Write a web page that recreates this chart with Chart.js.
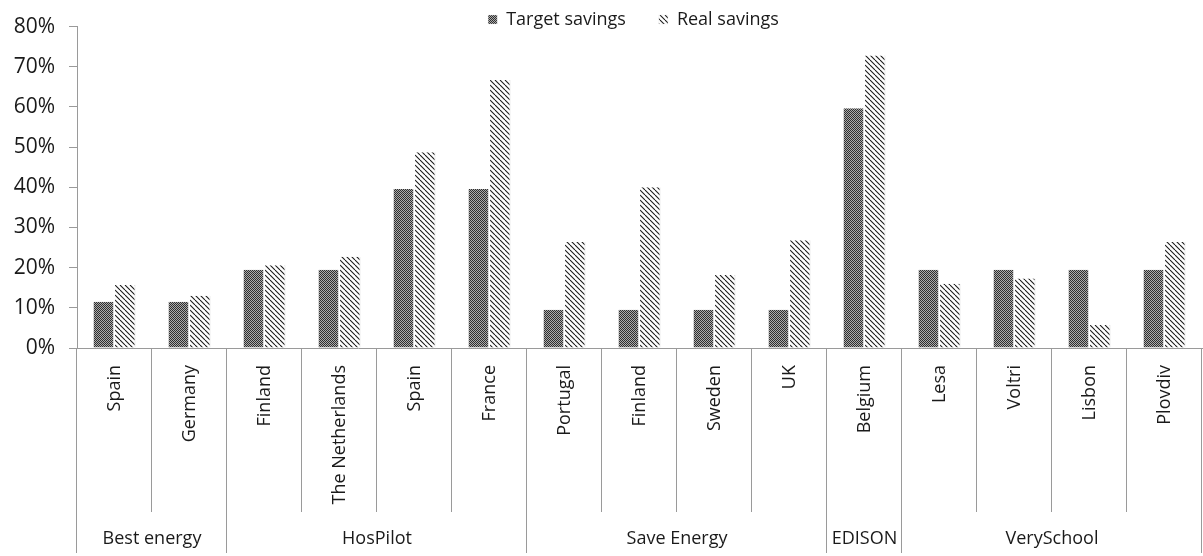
<!DOCTYPE html>
<html>
<head>
<meta charset="utf-8">
<script src="https://cdn.jsdelivr.net/npm/chart.js@4.4.0/dist/chart.umd.min.js"></script>
<style>
  html, body { margin: 0; padding: 0; background: #fff; }
  #wrap { width: 1203px; height: 556px; }
</style>
</head>
<body>
<div id="wrap"><canvas id="chart"></canvas></div>
<script>
const categories = ['Spain', 'Germany', 'Finland', 'The Netherlands', 'Spain', 'France',
  'Portugal', 'Finland', 'Sweden', 'UK', 'Belgium', 'Lesa', 'Voltri', 'Lisbon', 'Plovdiv'];
const groupNames = ['Best energy', 'HosPilot', 'Save Energy', 'EDISON', 'VerySchool'];
const groupSizes = [2, 4, 4, 1, 4];
const targetSavings = [11.5, 11.5, 19.5, 19.5, 39.6, 39.6, 9.5, 9.5, 9.5, 9.5, 59.7, 19.5, 19.5, 19.5, 19.5];
const realSavings = [15.7, 13, 20.6, 22.7, 48.7, 66.7, 26.4, 40, 18.2, 26.8, 72.8, 16, 17.3, 5.7, 26.4];
const yMax = 80;
const yStep = 10;

const FONT = "'Open Sans', 'DejaVu Sans', sans-serif";
const TEXT = '#1a1a1a';
const LINE = '#9a9a9a';

// fill patterns like the excel hatching
function dotPattern() {
  const c = document.createElement('canvas');
  c.width = 2; c.height = 2;
  const g = c.getContext('2d');
  g.fillStyle = '#ababab';
  g.fillRect(0, 0, 2, 2);
  g.fillStyle = '#2e2e2e';
  g.fillRect(0, 0, 1, 1);
  g.fillRect(1, 1, 1, 1);
  return g.createPattern(c, 'repeat');
}

function hatchPattern() {
  const n = 5;
  const c = document.createElement('canvas');
  c.width = n; c.height = n;
  const g = c.getContext('2d');
  g.fillStyle = '#fff';
  g.fillRect(0, 0, n, n);
  g.strokeStyle = '#1a1a1a';
  g.lineWidth = 1.1;
  for (const x0 of [-n, 0, n]) {
    g.beginPath();
    g.moveTo(x0, 0);
    g.lineTo(x0 + n, n);
    g.stroke();
  }
  return g.createPattern(c, 'repeat');
}

// category dividers and the second row of group labels
const groupAxis = {
  id: 'groupAxis',
  afterDraw(chart) {
    const sx = chart.scales.x;
    const ctx = chart.ctx;
    const n = categories.length;
    const bound = i => {
      if (i === 0) return sx.left;
      if (i === n) return sx.right;
      return (sx.getPixelForValue(i - 1) + sx.getPixelForValue(i)) / 2;
    };
    const groupEdges = [0];
    groupSizes.forEach(s => groupEdges.push(groupEdges[groupEdges.length - 1] + s));

    ctx.save();
    ctx.strokeStyle = LINE;
    ctx.lineWidth = 1;
    for (let i = 0; i <= n; i++) {
      const x = Math.round(bound(i)) - 0.5;
      const len = groupEdges.includes(i) ? 205 : 164;
      ctx.beginPath();
      ctx.moveTo(x, sx.top);
      ctx.lineTo(x, sx.top + len);
      ctx.stroke();
    }
    ctx.fillStyle = TEXT;
    ctx.font = '18px ' + FONT;
    ctx.textAlign = 'center';
    ctx.textBaseline = 'middle';
    groupNames.forEach((name, g) => {
      const cx = (bound(groupEdges[g]) + bound(groupEdges[g + 1])) / 2;
      ctx.fillText(name, cx, sx.top + 191);
    });
    ctx.restore();
  }
};

// center the legend over the plot area, just above it
const legendPlace = {
  id: 'legendPlace',
  afterLayout(chart) {
    const lg = chart.legend;
    const a = chart.chartArea;
    const pad = lg.options.labels.padding;
    lg.left = a.left - 6;
    lg.right = a.right - 6;
    lg.width = lg.right - lg.left;
    lg.top = 10.5 - pad;
    lg.bottom = 40;
    lg.height = lg.bottom - lg.top;
  }
};

new Chart(document.getElementById('chart'), {
  type: 'bar',
  data: {
    labels: categories,
    datasets: [
      {
        label: 'Target savings',
        data: targetSavings,
        backgroundColor: dotPattern(),
        borderColor: '#dcdcdc',
        borderWidth: { right: 1 }
      },
      {
        label: 'Real savings',
        data: realSavings,
        backgroundColor: hatchPattern(),
        borderColor: '#dcdcdc',
        borderWidth: { right: 1 }
      }
    ]
  },
  options: {
    responsive: true,
    maintainAspectRatio: false,
    animation: false,
    layout: { padding: { right: 1 } },
    datasets: {
      bar: { categoryPercentage: 0.575, barPercentage: 0.95 }
    },
    plugins: {
      tooltip: { enabled: false },
      legend: {
        position: 'top',
        maxHeight: 25,
        labels: {
          boxWidth: 9,
          boxHeight: 9,
          padding: 33,
          color: TEXT,
          font: { family: FONT, size: 18 }
        }
      }
    },
    scales: {
      x: {
        grid: { display: false },
        border: { display: true, color: LINE, width: 1 },
        ticks: {
          minRotation: 90,
          maxRotation: 90,
          autoSkip: false,
          padding: 9,
          color: TEXT,
          font: { family: FONT, size: 18 }
        },
        afterFit(scale) { scale.height = 208; }
      },
      y: {
        min: 0,
        max: yMax,
        grid: { display: true, drawOnChartArea: false, drawTicks: true, tickLength: 8, color: LINE },
        border: { display: true, color: LINE, width: 1 },
        ticks: {
          stepSize: yStep,
          padding: 14,
          color: TEXT,
          font: { family: FONT, size: 21 },
          callback: v => v + '%'
        },
        afterFit(scale) { scale.width = 77; }
      }
    }
  },
  plugins: [groupAxis, legendPlace]
});
</script>
</body>
</html>
